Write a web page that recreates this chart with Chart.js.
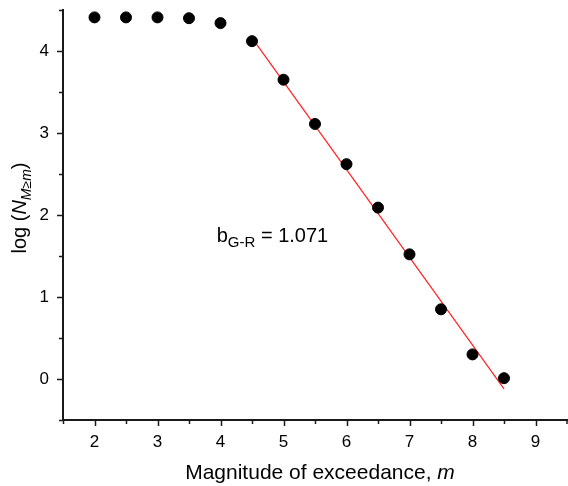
<!DOCTYPE html>
<html>
<head>
<meta charset="utf-8">
<script src="https://cdn.jsdelivr.net/npm/chart.js@4.4.1/dist/chart.umd.min.js"></script>
<style>
  html, body { margin: 0; padding: 0; background: #fff; overflow: hidden; }
  #wrap { width: 568px; height: 486px; position: relative; }
  canvas { display: block; }
</style>
</head>
<body>
<div id="wrap"><canvas id="grChart" width="568" height="486"></canvas></div>
<script>
// magnitude thresholds and log of cumulative counts
const magnitudes = [2, 2.5, 3, 3.5, 4, 4.5, 5, 5.5, 6, 6.5, 7, 7.5, 8, 8.5];
const logCounts = [4.41, 4.41, 4.41, 4.40, 4.34, 4.12, 3.65, 3.11, 2.62, 2.09, 1.52, 0.85, 0.30, 0.01];

// Gutenberg-Richter fit line ends
const fitX = [4.5, 8.5];
const fitY = [4.16, -0.12];
const bValue = '1.071';

const xTicks = [2, 3, 4, 5, 6, 7, 8, 9];
const yTicks = [0, 1, 2, 3, 4];

const FONT = '"Liberation Sans", Arial, sans-serif';
const AXIS_COLOR = '#1a1a1a';

function noPadding(s) {
    s.paddingLeft = 0;
    s.paddingRight = 0;
    s.paddingTop = 0;
    s.paddingBottom = 0;
}

const extrasPlugin = {
    id: 'extras',
    afterDraw(chart) {
        const ctx = chart.ctx;
        const xs = chart.scales.x;
        const ys = chart.scales.y;
        const area = chart.chartArea;
        ctx.save();
        ctx.strokeStyle = AXIS_COLOR;
        ctx.lineWidth = 1.5;
        // x ticks, major at integers, minor at halves
        for (let v = xs.min; v <= xs.max + 1e-9; v += 0.5) {
            const px = Math.min(Math.round(xs.getPixelForValue(v)) + 0.5, chart.width - 1);
            const len = Number.isInteger(v) ? 6 : 4;
            ctx.beginPath();
            ctx.moveTo(px, area.bottom);
            ctx.lineTo(px, area.bottom + len);
            ctx.stroke();
        }
        for (let v = ys.min; v <= ys.max + 1e-9; v += 0.5) {
            const py = Math.round(ys.getPixelForValue(v)) + 0.5;
            const len = Number.isInteger(v) ? 6 : 4;
            ctx.beginPath();
            ctx.moveTo(area.left, py);
            ctx.lineTo(area.left - len, py);
            ctx.stroke();
        }

        ctx.fillStyle = '#000';
        ctx.textBaseline = 'alphabetic';

        // x title
        const xa = 'Magnitude of exceedance, ';
        const xb = 'm';
        ctx.font = '21px ' + FONT;
        const wa = ctx.measureText(xa).width;
        ctx.font = 'italic 21px ' + FONT;
        const wb = ctx.measureText(xb).width;
        let sx = 320 - (wa + wb) / 2;
        ctx.font = '21px ' + FONT;
        ctx.textAlign = 'left';
        ctx.fillText(xa, sx, 479);
        ctx.font = 'italic 21px ' + FONT;
        ctx.fillText(xb, sx + wa, 479);

        // y title, rotated
        const parts = [
            { t: 'log (', f: '20px ' + FONT, dy: 0 },
            { t: 'N', f: 'italic 20px ' + FONT, dy: 0 },
            { t: 'M\u2265m', f: 'italic 14px ' + FONT, dy: 5 },
            { t: ')', f: '20px ' + FONT, dy: 0 }
        ];
        let total = 0;
        parts.forEach(p => { ctx.font = p.f; p.w = ctx.measureText(p.t).width; total += p.w; });
        ctx.translate(26, 208);
        ctx.rotate(-Math.PI / 2);
        let cx = -total / 2;
        parts.forEach(p => {
            ctx.font = p.f;
            ctx.fillText(p.t, cx, p.dy);
            cx += p.w;
        });
        ctx.setTransform(1, 0, 0, 1, 0, 0);

        // b-value annotation
        const ax = xs.getPixelForValue(3.94);
        const ay = ys.getPixelForValue(1.67);
        ctx.font = '20px ' + FONT;
        ctx.fillText('b', ax, ay);
        let w = ctx.measureText('b').width;
        ctx.font = '15px ' + FONT;
        ctx.fillText('G-R', ax + w, ay + 5);
        w += ctx.measureText('G-R').width;
        ctx.font = '20px ' + FONT;
        ctx.fillText(' = ' + bValue, ax + w, ay);
        ctx.restore();
    }
};

new Chart(document.getElementById('grChart'), {
    type: 'scatter',
    data: {
        datasets: [
            {
                label: 'data',
                data: magnitudes.map((m, i) => ({ x: m, y: logCounts[i] })),
                backgroundColor: '#000',
                borderColor: '#000',
                pointRadius: 5.5,
                pointHoverRadius: 5.5,
                order: 1
            },
            {
                label: 'fit',
                type: 'line',
                data: fitX.map((m, i) => ({ x: m, y: fitY[i] })),
                borderColor: '#ff2020',
                borderWidth: 1.2,
                pointRadius: 0,
                fill: false,
                order: 2
            }
        ]
    },
    plugins: [extrasPlugin],
    options: {
        responsive: false,
        animation: false,
        layout: { autoPadding: false, padding: { top: 10, right: 1, left: 0, bottom: 0 } },
        plugins: {
            legend: { display: false },
            tooltip: { enabled: false }
        },
        scales: {
            x: {
                type: 'linear',
                min: 1.5,
                max: 9.5,
                afterBuildTicks: s => { s.ticks = xTicks.map(v => ({ value: v })); },
                afterFit: s => { s.height = 66; noPadding(s); },
                grid: { display: false, drawTicks: false },
                border: { display: true, color: AXIS_COLOR, width: 2 },
                ticks: { color: '#000', font: { family: FONT, size: 17 }, padding: 12, maxRotation: 0 }
            },
            y: {
                type: 'linear',
                min: -0.5,
                max: 4.5,
                afterBuildTicks: s => { s.ticks = yTicks.map(v => ({ value: v })); },
                afterFit: s => { s.width = 63; noPadding(s); },
                grid: { display: false, drawTicks: false },
                border: { display: true, color: AXIS_COLOR, width: 2 },
                ticks: { color: '#000', font: { family: FONT, size: 17 }, padding: 14 }
            }
        }
    }
});
</script>
</body>
</html>
